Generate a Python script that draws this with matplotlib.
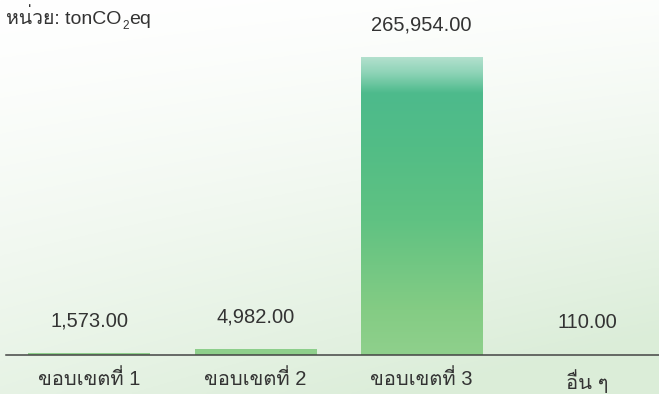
import matplotlib
matplotlib.use("Agg")
import matplotlib.pyplot as plt
import numpy as np
from matplotlib import font_manager
from matplotlib.ft2font import FT2Font
from matplotlib.colors import LinearSegmentedColormap

# emissions by scope, tonCO2eq
categories = ["ขอบเขตที่ 1", "ขอบเขตที่ 2", "ขอบเขตที่ 3", "อื่น ๆ"]
values = [1573.00, 4982.00, 265954.00, 110.00]
unit_label = "หน่วย: tonCO"
unit_sub = "2"
unit_tail = "eq"


def find_thai_font():
    # pick any installed face that has Thai glyphs
    for f in font_manager.fontManager.ttflist:
        try:
            if 0x0E02 in FT2Font(f.fname).get_charmap():
                return f.name
        except Exception:
            pass
    return None


thai = find_thai_font()
fams = ["Liberation Sans"]
if thai:
    fams.append(thai)
fams.append("DejaVu Sans")
plt.rcParams["font.family"] = fams
txt_col = "#333333"

fig = plt.figure(figsize=(6.59, 3.94), dpi=100)

# soft green wash behind everything
bg = fig.add_axes([0, 0, 1, 1], zorder=-5)
bg.axis("off")
yy, xx = np.mgrid[0:1:200j, 0:1:330j]
w = np.clip(0.75 * yy + 0.25 * xx * yy + 0.15 * xx, 0, 1) ** 1.3
top = np.array([1.0, 1.0, 1.0])
bot = np.array([0.86, 0.93, 0.85])
img = top[None, None, :] * (1 - w[..., None]) + bot[None, None, :] * w[..., None]
bg.imshow(img, extent=[0, 1, 0, 1], aspect="auto", origin="upper")
bg.set_xlim(0, 1)
bg.set_ylim(0, 1)

ax = fig.add_axes([6 / 659, 39 / 394, 653 / 659, 355 / 394])
ax.patch.set_alpha(0)

x = np.arange(len(categories))
vmax = max(values)
bars = ax.bar(x, values, width=0.73, color="none", edgecolor="none")

# shared vertical gradient, clipped to each bar
cmap = LinearSegmentedColormap.from_list(
    "wash", [(0.0, "#8fd08c"), (0.15, "#84cc84"), (0.45, "#60c282"),
             (0.7, "#52bd86"), (0.88, "#4dba8c"), (0.95, "#8fd4b8"),
             (1.0, "#b2e0cd")])
grad = np.linspace(0, 1, 256).reshape(-1, 1)
for b in bars:
    im = ax.imshow(grad, cmap=cmap, aspect="auto", origin="lower",
                   extent=[b.get_x(), b.get_x() + b.get_width(), 0, vmax],
                   zorder=2)
    im.set_clip_path(b)

for xi, v in zip(x, values):
    ax.annotate(f"{v:,.2f}", xy=(xi, v), xytext=(0, 23), textcoords="offset points",
                ha="center", va="center", fontsize=14.5, color=txt_col)

ax.set_xlim(-0.5, 3.43)
ax.set_ylim(0, vmax * 355 / 298)
ax.set_xticks(x)
ax.set_xticklabels(categories, fontsize=14.5, color=txt_col)
ax.tick_params(axis="x", length=0, pad=10)
ax.set_yticks([])
for s in ["top", "left", "right"]:
    ax.spines[s].set_visible(False)
ax.spines["bottom"].set_color("#444444")
ax.spines["bottom"].set_linewidth(1.1)

t1 = fig.text(6 / 659, 1 - 18 / 394, unit_label, fontsize=14, color=txt_col,
              ha="left", va="center")
t2 = plt.annotate(unit_sub, xy=(1, 0), xycoords=t1, xytext=(0.5, -3),
                  textcoords="offset points", fontsize=8.5, color=txt_col,
                  ha="left", va="bottom", annotation_clip=False)
plt.annotate(unit_tail, xy=(1, 0), xycoords=t2, xytext=(0.5, 3),
             textcoords="offset points", fontsize=14, color=txt_col,
             ha="left", va="bottom", annotation_clip=False)

fig.savefig("out.png", dpi=100)
